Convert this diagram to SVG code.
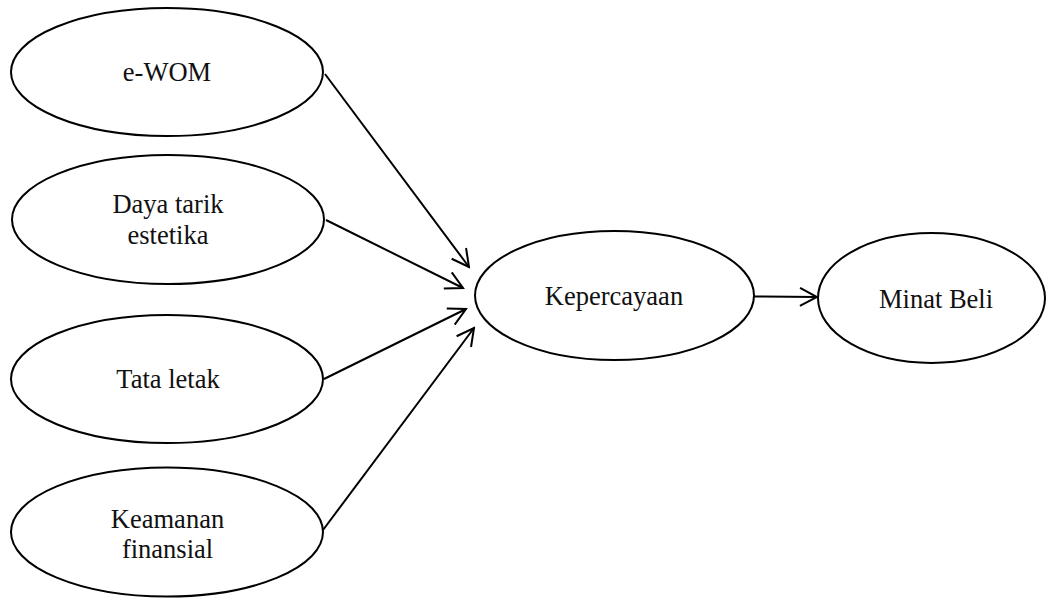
<svg xmlns="http://www.w3.org/2000/svg" width="1046" height="599" viewBox="0 0 1046 599">
<style>
.node ellipse{fill:#fff;stroke:#000;stroke-width:2}
.node text{font-family:"Liberation Serif","DejaVu Serif",serif;font-size:26.5px;fill:#111;text-anchor:middle}
.edge{stroke:#000;stroke-width:2;fill:none;marker-end:url(#arr)}
</style>
<defs>
<marker id="arr" markerUnits="userSpaceOnUse" viewBox="0 0 20 20" refX="18" refY="10" markerWidth="20" markerHeight="20" orient="auto">
<path d="M1,1 L18,10 L1,19" fill="none" stroke="#000" stroke-width="2"/>
</marker>
</defs>
<rect width="1046" height="599" fill="#fff"/>
<g id="connectors">
<line class="edge" x1="325" y1="74" x2="469" y2="267"/>
<line class="edge" x1="326" y1="220" x2="463" y2="288"/>
<line class="edge" x1="324" y1="379" x2="466" y2="309"/>
<line class="edge" x1="323" y1="530" x2="474" y2="328"/>
<line class="edge" x1="754" y1="296.5" x2="817" y2="297"/>
</g>
<g id="ewom" class="node">
<ellipse cx="167" cy="72" rx="156" ry="64"/>
<text x="167" y="81">e-WOM</text>
</g>
<g id="daya" class="node">
<ellipse cx="168" cy="219.5" rx="156" ry="64.5"/>
<text x="168" y="213">Daya tarik</text>
<text x="168" y="244">estetika</text>
</g>
<g id="tata" class="node">
<ellipse cx="167" cy="379" rx="156" ry="64"/>
<text x="168" y="388">Tata letak</text>
</g>
<g id="keamanan" class="node">
<ellipse cx="167" cy="532" rx="156" ry="64.5"/>
<text x="167.5" y="528">Keamanan</text>
<text x="167.5" y="558">finansial</text>
</g>
<g id="kepercayaan" class="node">
<ellipse cx="614.5" cy="295.5" rx="139.5" ry="64.5"/>
<text x="614" y="305">Kepercayaan</text>
</g>
<g id="minat" class="node">
<ellipse cx="931.5" cy="298" rx="113.5" ry="65"/>
<text x="936" y="308">Minat Beli</text>
</g>
</svg>
